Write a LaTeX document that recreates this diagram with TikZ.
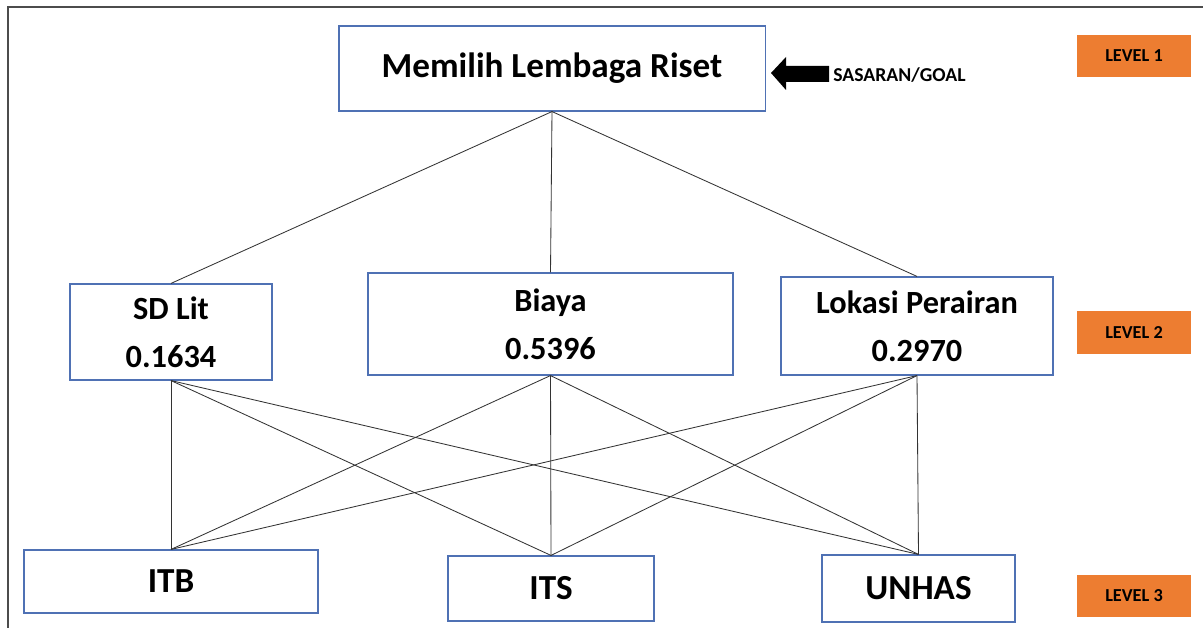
\documentclass[tikz,border=0pt]{standalone}
\usepackage{fontspec}
\setmainfont{Carlito}
\definecolor{boxblue}{RGB}{79,113,180}
\definecolor{lvorange}{RGB}{237,125,49}
\begin{document}
\begin{tikzpicture}[x=0.025cm, y=-0.025cm,
    kotak/.style={draw=boxblue, line width=.8pt, inner sep=0pt, align=center,
        font=\fontsize{23}{34}\selectfont\bfseries},
    level/.style={fill=lvorange, inner sep=0pt, minimum width=2.85cm, minimum height=1.05cm,
        font=\fontsize{13}{15}\selectfont\bfseries},
    garis/.style={draw=black!80, line width=.6pt}]
    \useasboundingbox (0,0) rectangle (1203,628);
    \draw[black!70, line width=1.1pt](8,628)--(8,7)--(1203,7);

    \node[kotak, minimum width=10.65cm, minimum height=2.125cm, font=\fontsize{25}{30}\selectfont\bfseries] (goal) at (552,68.5) {Memilih Lembaga Riset};
    \node[kotak, minimum width=5.05cm, minimum height=2.4cm] (sdlit) at (171,332) {SD Lit\\0.1634};
    \node[kotak, minimum width=9.125cm, minimum height=2.55cm] (biaya) at (550.5,324) {Biaya\\0.5396};
    \node[kotak, minimum width=6.8cm, minimum height=2.45cm] (lokasi) at (917,326) {Lokasi Perairan\\0.2970};
    \node[kotak, minimum width=7.35cm, minimum height=1.575cm, font=\fontsize{25}{30}\selectfont\bfseries] (itb) at (171,581.5) {ITB};
    \node[kotak, minimum width=5.15cm, minimum height=1.625cm, font=\fontsize{25}{30}\selectfont\bfseries] (its) at (551,588.5) {ITS};
    \node[kotak, minimum width=4.825cm, minimum height=1.675cm, font=\fontsize{25}{30}\selectfont\bfseries] (unhas) at (918.5,588.5) {UNHAS};

    \node[level] (lv1) at (1134,56) {LEVEL 1};
    \node[level] (lv2) at (1134,332.5) {LEVEL 2};
    \node[level] (lv3) at (1134,596) {LEVEL 3};

    % panah sasaran
    \fill[black](771,73)--(786,57)--(786,66)--(829,66)--(829,82)--(786,82)--(786,90)--cycle;
    \node[anchor=west, inner sep=0pt, font=\fontsize{14}{16}\selectfont\bfseries] (sasaran) at (833,75) {SASARAN/GOAL};

\foreach \k in {sdlit,biaya,lokasi}
{
    \draw[garis](goal.south)--(\k.north);
}
\foreach \k in {sdlit,biaya,lokasi}
{
    \foreach \a in {itb,its,unhas}
    {
        \draw[garis](\k.south)--(\a.north);
    }
}

\end{tikzpicture}
\end{document}
